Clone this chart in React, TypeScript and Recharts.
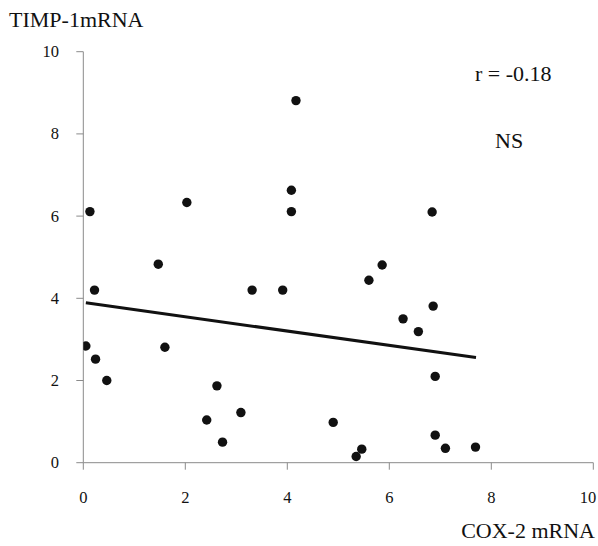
import React from 'react';
import { ScatterChart, Scatter, XAxis, YAxis } from 'recharts';

const cox2 = [0.05, 0.22, 0.24, 0.46, 1.6, 2.42, 2.62, 2.73, 3.09, 3.31, 3.91, 0.13, 2.03, 1.47, 4.17, 4.08, 4.08, 6.84, 5.86, 5.6, 6.86, 6.27, 6.57, 6.9, 4.9, 5.46, 5.35, 6.9, 7.1, 7.69];
const timp1 = [2.84, 4.2, 2.52, 2.0, 2.81, 1.04, 1.87, 0.5, 1.22, 4.2, 4.2, 6.11, 6.33, 4.83, 8.81, 6.63, 6.11, 6.1, 4.81, 4.44, 3.81, 3.5, 3.19, 2.1, 0.98, 0.33, 0.15, 0.67, 0.35, 0.38];
const fitX = [0.05, 7.7];
const fitY = [3.89, 2.56];
const ticks = [0, 2, 4, 6, 8, 10];

const points = cox2.map((x, i) => ({ x, y: timp1[i] }));
const fitLine = fitX.map((x, i) => ({ x, y: fitY[i] }));

const FONT = '"Liberation Serif", "Times New Roman", serif';
const INK = '#111';
const AXIS = '#8a8a8a';

const Dot = (props: any) => <circle cx={props.cx} cy={props.cy} r={4.7} fill={INK} />;
const NoDot = () => <g />;

const XTick = (props: any) => (
  <text x={Math.min(props.x, 588)} y={props.y + 31} textAnchor="middle" fontSize={16.5} fontFamily={FONT} fill={INK}>
    {props.payload.value}
  </text>
);
const YTick = (props: any) => (
  <text x={59} y={props.y + 5.5} textAnchor="end" fontSize={16.5} fontFamily={FONT} fill={INK}>
    {props.payload.value}
  </text>
);

export default function App() {
  return (
    <div style={{ position: 'absolute', left: 0, top: 0, background: '#fff' }}>
      <ScatterChart width={598} height={546} margin={{ top: 51.7, right: 4.7, bottom: 43.3, left: 0 }}>
        <XAxis
          type="number"
          dataKey="x"
          domain={[0, 10]}
          ticks={ticks}
          interval={0}
          height={40}
          stroke={AXIS}
          tickSize={7}
          tick={<XTick />}
          allowDataOverflow
        />
        <YAxis
          type="number"
          dataKey="y"
          domain={[0, 10]}
          ticks={ticks}
          interval={0}
          width={83.3}
          stroke={AXIS}
          tickSize={7}
          tick={<YTick />}
          allowDataOverflow
        />
        <Scatter data={fitLine} line={{ stroke: INK, strokeWidth: 3 }} shape={NoDot} isAnimationActive={false} />
        <Scatter data={points} shape={Dot} isAnimationActive={false} />
        <text x={9} y={26.5} fontSize={22} fontFamily={FONT} fill={INK}>TIMP-1mRNA</text>
        <text x={475} y={81} fontSize={22} fontFamily={FONT} fill={INK}>r = -0.18</text>
        <text x={495} y={148} fontSize={22} fontFamily={FONT} fill={INK}>NS</text>
        <text x={595} y={538} fontSize={22} fontFamily={FONT} fill={INK} textAnchor="end">COX-2 mRNA</text>
      </ScatterChart>
    </div>
  );
}
